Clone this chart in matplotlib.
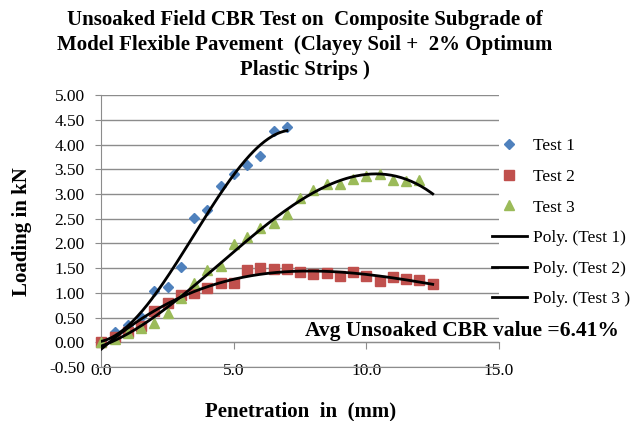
#!/usr/bin/env python3
import numpy as np
from matplotlib import pyplot as plt

# penetration (mm) and load (kN)
pen1 = [0.0, 0.5, 1.0, 1.5, 2.0, 2.5, 3.0, 3.5, 4.0, 4.5, 5.0, 5.5, 6.0, 6.5, 7.0]
load1 = [0.0, 0.22, 0.35, 0.52, 1.03, 1.13, 1.53, 2.52, 2.68, 3.17, 3.40, 3.58, 3.76, 4.27, 4.36]

pen2 = [0.0, 0.5, 1.0, 1.5, 2.0, 2.5, 3.0, 3.5, 4.0, 4.5, 5.0, 5.5, 6.0,
        6.5, 7.0, 7.5, 8.0, 8.5, 9.0, 9.5, 10.0, 10.5, 11.0, 11.5, 12.0, 12.5]
load2 = [0.0, 0.10, 0.20, 0.33, 0.63, 0.79, 0.96, 1.00, 1.10, 1.20, 1.20, 1.46, 1.50,
         1.49, 1.48, 1.43, 1.38, 1.40, 1.34, 1.42, 1.35, 1.25, 1.33, 1.28, 1.26, 1.19]

pen3 = [0.0, 0.5, 1.0, 1.5, 2.0, 2.5, 3.0, 3.5, 4.0, 4.5, 5.0, 5.5, 6.0,
        6.5, 7.0, 7.5, 8.0, 8.5, 9.0, 9.5, 10.0, 10.5, 11.0, 11.5, 12.0]
load3 = [0.0, 0.07, 0.18, 0.29, 0.40, 0.60, 0.89, 1.20, 1.47, 1.54, 1.98, 2.13, 2.32,
         2.42, 2.60, 2.93, 3.09, 3.21, 3.21, 3.30, 3.37, 3.41, 3.29, 3.27, 3.29]

trend_end = [7.0, 12.5, 12.5]
avg_cbr = 6.41

plt.rcParams['font.family'] = ['Liberation Serif', 'DejaVu Serif']

fig = plt.figure(figsize=(6.34, 4.21), dpi=100)
ax = fig.add_axes([0.160, 0.128, 0.627, 0.646])

blue, red, green = '#4F81BD', '#C0504D', '#9BBB59'
ax.plot(pen1, load1, 'D', color=blue, ms=5, ls='none', label='Test 1', zorder=3, clip_on=False)
ax.plot(pen2, load2, 's', color=red, ms=6.5, ls='none', label='Test 2', zorder=3, clip_on=False)
ax.plot(pen3, load3, '^', color=green, ms=7, ls='none', label='Test 3', zorder=3, clip_on=False)

for (x, y, end, name) in [(pen1, load1, trend_end[0], 'Poly. (Test 1)'),
                          (pen2, load2, trend_end[1], 'Poly. (Test 2)'),
                          (pen3, load3, trend_end[2], 'Poly. (Test 3 )')]:
    coef = np.polyfit(x, y, 3)
    xs = np.linspace(0, end, 200)
    ax.plot(xs, np.polyval(coef, xs), color='black', lw=2, label=name, zorder=4)

ax.set_xlim(0, 15)
ax.set_ylim(-0.5, 5.0)
ax.set_xticks([0, 5, 10, 15])
ax.set_xticklabels(['0.0', '5.0', '10.0', '15.0'])
ax.set_yticks(np.arange(-0.5, 5.01, 0.5))
ax.set_yticklabels(['%.2f' % v for v in np.arange(-0.5, 5.01, 0.5)])

grey = '#8C8C8C'
ax.yaxis.grid(True, color=grey, lw=1)
ax.set_axisbelow(True)
for s in ('top', 'right'):
    ax.spines[s].set_visible(False)
ax.spines['left'].set_color(grey)
ax.spines['bottom'].set_color(grey)
ax.tick_params(axis='y', direction='out', length=4, color=grey, labelsize=12.5, pad=8)
ax.tick_params(axis='x', length=0, labelsize=12.5, pad=-3)

# horizontal axis crosses at zero, ticks hang below it
sec = ax.secondary_xaxis(0, transform=ax.transData)
sec.set_xticks([0, 5, 10, 15])
sec.tick_params(direction='out', length=5, color=grey, labelbottom=False)
sec.spines['bottom'].set_color(grey)

ax.set_ylabel('Loading in kN', fontsize=15, fontweight='bold', labelpad=12)
ax.set_xlabel('Penetration  in  (mm)', fontsize=15, fontweight='bold', labelpad=16)

fig.text(0.481, 0.976, 'Unsoaked Field CBR Test on  Composite Subgrade of\n'
         'Model Flexible Pavement  (Clayey Soil +  2% Optimum\nPlastic Strips )',
         ha='center', va='top', fontsize=15, fontweight='bold', linespacing=1.32)

fig.text(0.481, 0.214, 'Avg Unsoaked CBR value =%.2f%%' % avg_cbr,
         fontsize=15.5, fontweight='bold', va='center')

handles, labels = ax.get_legend_handles_labels()
fig.legend(handles, labels, loc='upper left', bbox_to_anchor=(0.765, 0.688),
           frameon=False, fontsize=12.5, labelspacing=0.83, handlelength=2.0,
           handletextpad=0.35, borderaxespad=0)

fig.savefig('out.png', dpi=100)
